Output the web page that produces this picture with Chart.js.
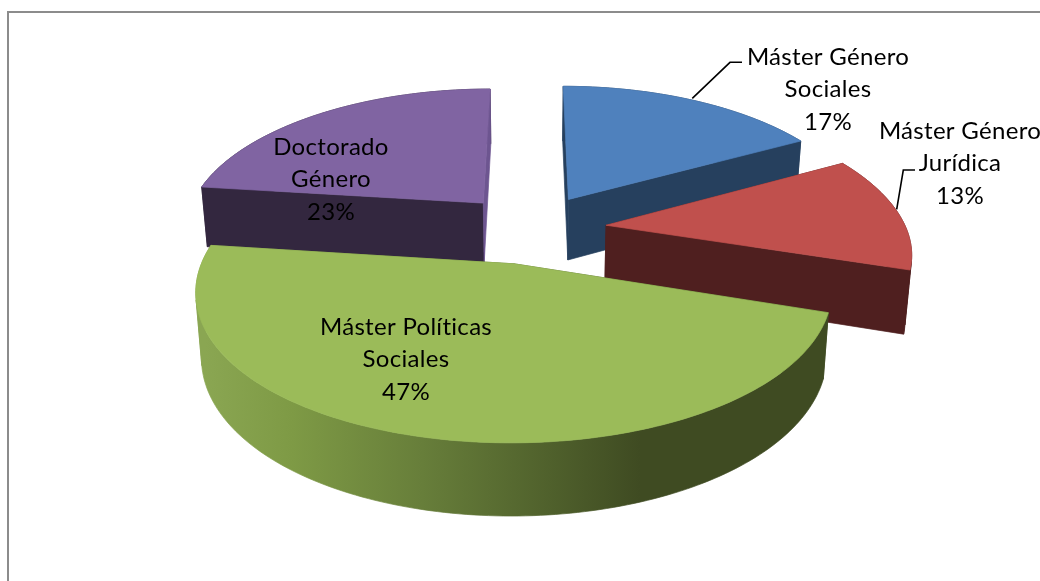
<!DOCTYPE html>
<html>
<head>
<meta charset="utf-8">
<title>Pie 3D</title>
<script src="https://cdn.jsdelivr.net/npm/chart.js@4"></script>
<style>
    html, body { margin: 0; padding: 0; background: #fff; overflow: hidden; }
    #frame { position: absolute; left: 7px; top: 11px; width: 1040px; height: 600px; border: 2px solid #8c8c8c; box-sizing: border-box; }
    #pie { position: absolute; left: 0; top: 0; }
</style>
</head>
<body>
<div id="frame"></div>
<canvas id="pie" width="1040" height="581"></canvas>
<script>
// Data
const categories = ['Máster Género Sociales', 'Máster Género Jurídica', 'Máster Políticas Sociales', 'Doctorado Género'];
const values = [17, 13, 47, 23];

// Colours
const topColors = ['#4f81bd', '#c0504d', '#9bbb59', '#8064a2'];
const wallColors = ['#26405e', '#4f1f1f', null, '#33273f'];
const endCutColors = [null, null, null, '#6d5590'];

// Camera used to tilt the flat pie
const camera = { x0: 531.5, y0: 228.5, sx: 300, sy: 139, perspX: 0.17, perspY: 0.155, depth: 62, shrink: 0.983 };

// Label placement
const labelBoxes = [
    { x: 828, y: 57 },
    { x: 960, y: 131 },
    { x: 406, y: 327 },
    { x: 331, y: 147 }
];
const lineHeight = 32.5;
const leaders = [
    [[742, 62.3], [730, 62.3], [692.3, 98.3]],
    [[915, 170], [903.3, 170], [896.7, 209.3]]
];

function project(p, bottom) {
    const fx = 1 / (1 - camera.perspX * p.v);
    const fy = 1 / (1 - camera.perspY * p.v);
    const q = bottom ? camera.shrink : 1;
    return {
        x: camera.x0 + camera.sx * p.u * fx * q,
        y: camera.y0 + camera.sy * p.v * fy * q + (bottom ? camera.depth * fy : 0)
    };
}

function fillPoly(ctx, pts, color) {
    ctx.beginPath();
    pts.forEach((p, i) => i ? ctx.lineTo(p.x, p.y) : ctx.moveTo(p.x, p.y));
    ctx.closePath();
    ctx.fillStyle = color;
    ctx.strokeStyle = color;
    ctx.lineWidth = 0.7;
    ctx.fill();
    ctx.stroke();
}

// wall below a run of top edges, negative area means it faces the camera
function wallPoly(run) {
    return run.map(p => project(p)).concat(run.slice().reverse().map(p => project(p, true)));
}

function polyArea(pts) {
    let area = 0;
    pts.forEach((p, i) => {
        const n = pts[(i + 1) % pts.length];
        area += p.x * n.y - n.x * p.y;
    });
    return area;
}

function drawSlice(ctx, arc, i, greenWall) {
    const R = arc.outerRadius;
    const mid = (arc.startAngle + arc.endAngle) / 2;
    const d = arc.options.offset / 4 / R;
    const tip = { u: Math.cos(mid) * d, v: Math.sin(mid) * d };
    const rim = [];
    const steps = Math.ceil((arc.endAngle - arc.startAngle) / 0.02);
    for (let s = 0; s <= steps; s++) {
        const a = arc.startAngle + (arc.endAngle - arc.startAngle) * s / steps;
        rim.push({ u: tip.u + Math.cos(a), v: tip.v + Math.sin(a) });
    }
    const wall = wallColors[i] || greenWall;

    // split the outer wall where it turns away
    const walls = [
        { run: [tip, rim[0]], color: wall },
        { run: [rim[rim.length - 1], tip], color: endCutColors[i] || wall }
    ];
    let run = [rim[0]];
    let sign = 0;
    for (let s = 0; s < rim.length - 1; s++) {
        const facing = Math.sign(polyArea(wallPoly([rim[s], rim[s + 1]])));
        if (sign && facing !== sign) {
            walls.push({ run: run, color: wall });
            run = [rim[s]];
        }
        run.push(rim[s + 1]);
        sign = facing;
    }
    walls.push({ run: run, color: wall });

    const polys = walls.map(w => ({ pts: wallPoly(w.run), color: w.color }));
    polys.filter(p => polyArea(p.pts) > 0).forEach(p => fillPoly(ctx, p.pts, p.color));
    polys.filter(p => polyArea(p.pts) <= 0).forEach(p => fillPoly(ctx, p.pts, p.color));
    fillPoly(ctx, [tip].concat(rim).map(p => project(p)), topColors[i]);
}

const pie3d = {
    id: 'pie3d',
    beforeDatasetDraw(chart) {
        const ctx = chart.ctx;
        const arcs = chart.getDatasetMeta(0).data;

        const greenWall = ctx.createLinearGradient(205, 0, 640, 0);
        greenWall.addColorStop(0, '#8aa652');
        greenWall.addColorStop(0.2, '#7e9a45');
        greenWall.addColorStop(0.5, '#677e3a');
        greenWall.addColorStop(0.75, '#53652e');
        greenWall.addColorStop(1, '#3f4b22');

        // back to front
        const order = arcs.map((a, i) => i).sort((a, b) =>
            Math.sin((arcs[a].startAngle + arcs[a].endAngle) / 2) - Math.sin((arcs[b].startAngle + arcs[b].endAngle) / 2));
        order.forEach(i => drawSlice(ctx, arcs[i], i, greenWall));

        // leader lines
        ctx.strokeStyle = '#000';
        ctx.lineWidth = 1.6;
        leaders.forEach(l => {
            ctx.beginPath();
            l.forEach((p, i) => i ? ctx.lineTo(p[0], p[1]) : ctx.moveTo(p[0], p[1]));
            ctx.stroke();
        });

        // labels
        const total = values.reduce((a, b) => a + b, 0);
        ctx.font = '24px Lato';
        ctx.letterSpacing = '0.3px';
        ctx.fillStyle = '#000';
        ctx.textAlign = 'center';
        ctx.textBaseline = 'middle';
        categories.forEach((name, i) => {
            const cut = name.lastIndexOf(' ');
            const lines = [name.slice(0, cut), name.slice(cut + 1), Math.round(values[i] / total * 100) + '%'];
            lines.forEach((t, n) => ctx.fillText(t, labelBoxes[i].x, labelBoxes[i].y + n * lineHeight));
        });
        return false;
    }
};

new Chart(document.getElementById('pie'), {
    type: 'pie',
    data: {
        labels: categories,
        datasets: [{
            data: values,
            backgroundColor: topColors,
            borderWidth: 0,
            offset: 194
        }]
    },
    options: {
        responsive: false,
        animation: false,
        plugins: {
            legend: { display: false },
            tooltip: { enabled: false }
        }
    },
    plugins: [pie3d]
});
</script>
</body>
</html>
